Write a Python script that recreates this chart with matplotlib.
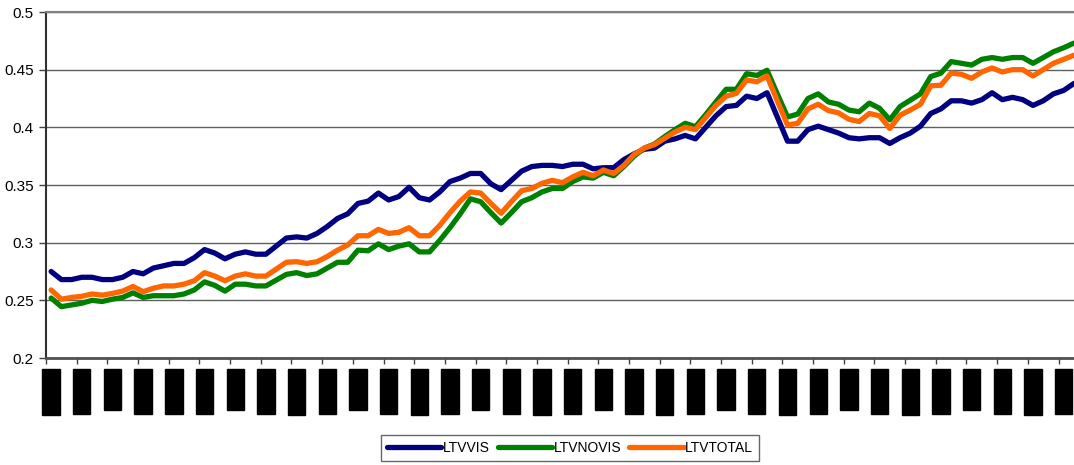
import pandas as pd
import numpy as np
import matplotlib
matplotlib.use('Agg')
import matplotlib.pyplot as plt

plt.rcParams['font.family'] = ['Liberation Sans', 'DejaVu Sans']

ltv_vis = [
    0.275, 0.268, 0.268, 0.270, 0.270, 0.268, 0.268, 0.270, 0.275, 0.273,
    0.278, 0.280, 0.282, 0.282, 0.287, 0.294, 0.291, 0.286, 0.290, 0.292,
    0.290, 0.290, 0.297, 0.304, 0.305, 0.304, 0.308, 0.314, 0.321, 0.325,
    0.334, 0.336, 0.343, 0.337, 0.340, 0.348, 0.339, 0.337, 0.344, 0.353,
    0.356, 0.360, 0.360, 0.351, 0.346, 0.354, 0.362, 0.366, 0.367, 0.367,
    0.366, 0.368, 0.368, 0.364, 0.365, 0.365, 0.372, 0.377, 0.381, 0.382,
    0.388, 0.390, 0.393, 0.390, 0.400, 0.410, 0.418, 0.419, 0.427, 0.425,
    0.430, 0.409, 0.388, 0.388, 0.398, 0.401, 0.398, 0.395, 0.391, 0.390,
    0.391, 0.391, 0.386, 0.391, 0.395, 0.401, 0.412, 0.416, 0.423, 0.423,
    0.421, 0.424, 0.430, 0.424, 0.426, 0.424, 0.419, 0.423, 0.429, 0.432,
    0.438,
]

ltv_novis = [
    0.252, 0.2445, 0.246, 0.2475, 0.250, 0.249, 0.251, 0.2525, 0.2565, 0.2525,
    0.254, 0.254, 0.254, 0.2555, 0.259, 0.266, 0.263, 0.258, 0.264, 0.264,
    0.2625, 0.2625, 0.2675, 0.2725, 0.274, 0.2715, 0.273, 0.278, 0.283, 0.283,
    0.2935, 0.293, 0.299, 0.294, 0.297, 0.299, 0.292, 0.292, 0.302, 0.313,
    0.325, 0.338, 0.3355, 0.326, 0.317, 0.326, 0.3355, 0.339, 0.344, 0.347,
    0.347, 0.353, 0.357, 0.356, 0.361, 0.358, 0.366, 0.375, 0.382, 0.3855,
    0.392, 0.398, 0.4035, 0.4005, 0.411, 0.422, 0.433, 0.433, 0.4465, 0.445,
    0.4495, 0.429, 0.409, 0.4115, 0.425, 0.429, 0.422, 0.420, 0.415, 0.4135,
    0.421, 0.4165, 0.4065, 0.418, 0.4235, 0.429, 0.444, 0.447, 0.457, 0.4555,
    0.454, 0.459, 0.4605, 0.459, 0.4605, 0.4605, 0.4555, 0.4605, 0.4655, 0.469,
    0.473,
]

ltv_total = [
    0.259, 0.251, 0.2525, 0.2535, 0.2555, 0.2545, 0.256, 0.258, 0.262, 0.2575,
    0.2605, 0.2625, 0.2625, 0.264, 0.267, 0.274, 0.271, 0.267, 0.271, 0.273,
    0.271, 0.271, 0.277, 0.283, 0.2835, 0.282, 0.2835, 0.288, 0.2935, 0.298,
    0.306, 0.306, 0.3115, 0.308, 0.309, 0.313, 0.306, 0.306, 0.315, 0.326,
    0.336, 0.344, 0.343, 0.334, 0.3255, 0.3355, 0.345, 0.347, 0.3515, 0.354,
    0.352, 0.357, 0.361, 0.358, 0.363, 0.360, 0.367, 0.3765, 0.382, 0.385,
    0.3905, 0.396, 0.400, 0.398, 0.4085, 0.419, 0.427, 0.4295, 0.441, 0.4395,
    0.4445, 0.423, 0.402, 0.4035, 0.416, 0.420, 0.4145, 0.4125, 0.407, 0.405,
    0.412, 0.410, 0.399, 0.4105, 0.415, 0.420, 0.436, 0.4365, 0.447, 0.446,
    0.4425, 0.448, 0.4515, 0.448, 0.450, 0.450, 0.4445, 0.450, 0.4555, 0.459,
    0.4625,
]

months = pd.date_range('1998-01-01', periods=len(ltv_vis), freq='MS')
month_labels = [d.strftime('%b-%y') for d in months]

n = len(ltv_vis)
x = np.arange(n)

fig = plt.figure(figsize=(10.74, 4.65), dpi=100)
ax = fig.add_axes([46 / 1074, 1 - 358 / 465, 1033 / 1074, 346 / 465])

ax.plot(x, ltv_vis, color='#000080', lw=3.8, label='LTVVIS', solid_capstyle='round')
ax.plot(x, ltv_novis, color='#008000', lw=3.8, label='LTVNOVIS', solid_capstyle='round')
ax.plot(x, ltv_total, color='#FF6600', lw=3.8, label='LTVTOTAL', solid_capstyle='round')

ax.set_xlim(-0.5, n - 0.5)
ax.set_ylim(0.2, 0.5)
ax.set_yticks([0.2, 0.25, 0.3, 0.35, 0.4, 0.45, 0.5])
ax.set_yticklabels(['0.2', '0.25', '0.3', '0.35', '0.4', '0.45', '0.5'], fontsize=11)
ax.grid(axis='y', color='#606060', lw=1)
ax.set_axisbelow(True)

# tick marks on category boundaries, labels on every third category
ax.set_xticks(np.arange(-0.5, n, 3))
ax.set_xticklabels([])
ax.set_xticks(x[::3], minor=True)
ax.set_xticklabels(month_labels[::3], minor=True, rotation=90, fontsize=10,
                   va='top', ha='center', color='black',
                   bbox=dict(facecolor='black', edgecolor='black', pad=1.2))
ax.tick_params(axis='x', which='major', length=4, width=1, color='#404040', direction='out')
ax.tick_params(axis='x', which='minor', length=0, pad=9)
ax.tick_params(axis='y', length=5, width=1, color='#404040', pad=4)

ax.spines['top'].set_color('#808080')
ax.spines['top'].set_linewidth(1.5)
ax.spines['right'].set_visible(False)
ax.spines['left'].set_color('#303030')
ax.spines['left'].set_linewidth(1.5)
ax.spines['bottom'].set_color('#505050')
ax.spines['bottom'].set_linewidth(2)

leg = fig.legend(loc='center', bbox_to_anchor=(570 / 1074, 1 - 448 / 465), ncol=3,
                 fontsize=10, frameon=True, fancybox=False, handlelength=3.9,
                 handletextpad=0.1, columnspacing=0.6, borderpad=0.45)
leg.get_frame().set_edgecolor('#404040')
leg.get_frame().set_linewidth(1)

fig.savefig('out.png', dpi=100)
